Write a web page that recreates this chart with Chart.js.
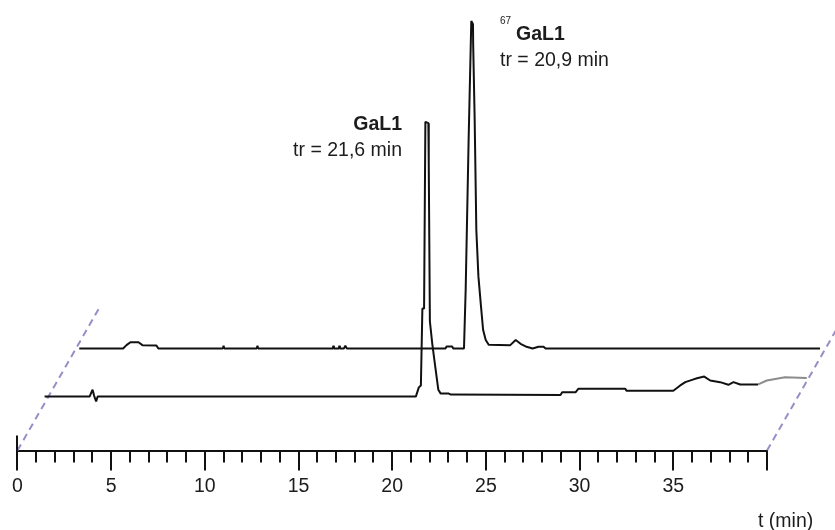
<!DOCTYPE html>
<html>
<head>
<meta charset="utf-8">
<script src="https://cdn.jsdelivr.net/npm/chart.js@4.4.1/dist/chart.umd.min.js"></script>
<style>
  html, body { margin: 0; padding: 0; background: #fff; }
  #wrap { width: 835px; height: 530px; }
</style>
</head>
<body>
<div id="wrap"><canvas id="chrom" width="835" height="530"></canvas></div>
<script>
// Radio-HPLC traces, times in minutes (each trace in its own time frame), intensity in relative units
const galTime = [0, 2.40, 2.56, 2.64, 2.75, 2.83, 19.81, 19.97, 20.08, 20.16, 20.25, 20.32, 20.48, 20.50, 20.56,
  20.69, 20.85, 21.01, 21.14, 21.57, 21.68, 27.53, 27.62, 28.33, 28.49, 30.99, 31.05, 33.55, 33.92, 34.19,
  34.55, 34.81, 35.20, 35.52, 36.05, 36.49, 36.76, 37.12, 38.08, 38.54, 39.51, 40.67];
const galSignal = [0, 0, 2.1, 0.3, -1.5, 0, 0, 2.8, 3.4, 26.9, 26.9, 83.9, 83.5, 71, 23,
  16, 9, 2.1, 0.9, 0.9, 0.6, 0.5, 1.3, 1.3, 2.4, 2.4, 1.8, 1.8, 3.4, 4.4,
  5.1, 5.6, 6.1, 4.9, 4.4, 3.6, 4.4, 3.7, 3.7, 4.9, 5.9, 5.7];

const ga67Time = [0, 2.34, 2.52, 2.73, 3.16, 3.37, 4.12, 4.22, 7.66, 7.70, 7.74, 9.47, 9.51, 9.55,
  13.53, 13.56, 13.59, 13.85, 13.88, 13.91, 14.12, 14.20, 14.28, 19.55, 19.60, 19.90, 19.95,
  20.53, 20.62, 20.78, 20.92, 21.01, 21.02, 21.10, 21.19, 21.30, 21.42, 21.55, 21.69, 21.85,
  23.00, 23.29, 23.55, 23.87, 24.19, 24.51, 24.78, 24.88, 39.53];
const ga67Signal = [0, 0, 1, 1.9, 1.9, 1, 0.9, 0, 0, 0.8, 0, 0, 0.8, 0,
  0, 0.8, 0, 0, 0.8, 0, 0, 0.8, 0, 0, 0.6, 0.6, 0,
  0, 17.9, 64.4, 100, 99, 93, 70, 36, 22, 14, 5.7, 2.6, 1.1,
  1.0, 2.6, 1.4, 0.5, 0, 0.5, 0.5, 0, 0];

const axisMin = 0;
const axisMax = 40;
const axisLabels = [0, 5, 10, 15, 20, 25, 30, 35];
const greyFrom = 38.08; // end of the GaL1 run drawn in grey

const peakLabels = [
  { name: 'GaL1', iso: '', tr: 'tr = 21,6 min' },
  { name: 'GaL1', iso: '67', tr: 'tr = 20,9 min' }
];

const FONT = 'Liberation Sans, Arial, sans-serif';
const INK = '#1c1c1c';

function toPoints(times, values) {
  return times.map((t, i) => ({ x: t, y: values[i] }));
}

// hidden time axis of a trace, shifted by its depth in the stack.
// bounds are set after the data limits so chart.js does not trim points past the edge
function depthAxis(shift) {
  return {
    type: 'linear',
    display: false,
    bounds: 'data',
    afterDataLimits: scale => {
      scale.min = axisMin - shift;
      scale.max = axisMax - shift;
    }
  };
}

// draws the major ticks, the perspective guides and the annotations
const decorPlugin = {
  id: 'decor',
  beforeDatasetsDraw(chart) {
    const ctx = chart.ctx;
    const sx = chart.scales.x;
    const base = chart.chartArea.bottom;
    ctx.save();
    ctx.strokeStyle = '#9a8cc8';
    ctx.lineWidth = 2;
    ctx.setLineDash([7, 5]);
    [axisMin, axisMax].forEach(v => {
      const px = sx.getPixelForValue(v);
      ctx.beginPath();
      ctx.moveTo(px, base);
      ctx.lineTo(px + 82, base - 143);
      ctx.stroke();
    });
    ctx.restore();
  },
  afterDraw(chart) {
    const ctx = chart.ctx;
    const sx = chart.scales.x;
    const base = chart.chartArea.bottom;
    ctx.save();
    ctx.strokeStyle = '#111';
    ctx.lineWidth = 2;
    // long ticks every 5 min and at the end
    for (let v = axisMin; v <= axisMax; v += 5) {
      const px = Math.round(sx.getPixelForValue(v));
      ctx.beginPath();
      ctx.moveTo(px, base);
      ctx.lineTo(px, base + 20);
      ctx.stroke();
    }
    const x0 = Math.round(sx.getPixelForValue(axisMin));
    ctx.beginPath();
    ctx.moveTo(x0, base - 15);
    ctx.lineTo(x0, base);
    ctx.stroke();

    ctx.fillStyle = INK;
    ctx.textBaseline = 'middle';

    // GaL1 label
    ctx.textAlign = 'right';
    ctx.font = 'bold 19.5px ' + FONT;
    ctx.fillText(peakLabels[0].name, 402, 125);
    ctx.font = '19.5px ' + FONT;
    ctx.fillText(peakLabels[0].tr, 402, 151);

    // 67GaL1 label
    ctx.textAlign = 'left';
    ctx.font = '10px ' + FONT;
    ctx.fillText(peakLabels[1].iso, 500, 21);
    ctx.font = 'bold 19.5px ' + FONT;
    ctx.fillText(peakLabels[1].name, 516, 35);
    ctx.font = '19.5px ' + FONT;
    ctx.fillText(peakLabels[1].tr, 500, 61);

    // axis title
    ctx.fillText('t (min)', 758, 522);
    ctx.restore();
  }
};

const ctx = document.getElementById('chrom').getContext('2d');

new Chart(ctx, {
  type: 'line',
  data: {
    datasets: [
      {
        label: 'GaL1',
        data: toPoints(galTime, galSignal),
        xAxisID: 'xGal',
        yAxisID: 'yGal',
        borderColor: '#111',
        borderWidth: 2,
        borderJoinStyle: 'bevel',
        pointRadius: 0,
        tension: 0,
        clip: false,
        segment: {
          borderColor: c => c.p0.parsed.x >= greyFrom ? '#8c8c8c' : '#111'
        }
      },
      {
        label: '67GaL1',
        data: toPoints(ga67Time, ga67Signal),
        xAxisID: 'xGa67',
        yAxisID: 'yGa67',
        borderColor: '#111',
        borderWidth: 2,
        borderJoinStyle: 'bevel',
        pointRadius: 0,
        tension: 0,
        clip: false
      }
    ]
  },
  options: {
    responsive: false,
    animation: false,
    layout: { padding: { left: 16, right: 68, top: 0, bottom: 20 } },
    plugins: {
      legend: { display: false },
      tooltip: { enabled: false }
    },
    scales: {
      x: {
        type: 'linear',
        position: 'bottom',
        min: axisMin,
        max: axisMax,
        border: { display: true, color: '#111', width: 2 },
        grid: {
          display: true,
          drawOnChartArea: false,
          drawTicks: true,
          tickLength: 12,
          color: '#111',
          lineWidth: 2
        },
        ticks: {
          stepSize: 1,
          autoSkip: false,
          maxRotation: 0,
          minRotation: 0,
          padding: 12,
          color: INK,
          font: { family: FONT, size: 19.5 },
          callback: v => axisLabels.includes(v) ? String(v) : ''
        }
      },
      // each trace sits deeper in the pseudo-3D stack: shifted right and up
      xGal: depthAxis(1.45),
      xGa67: depthAxis(3.3),
      yGal: { type: 'linear', display: false, min: -16.5, max: 121.1 },
      yGa67: { type: 'linear', display: false, min: -31.2, max: 106.4 }
    }
  },
  plugins: [decorPlugin]
});
</script>
</body>
</html>
